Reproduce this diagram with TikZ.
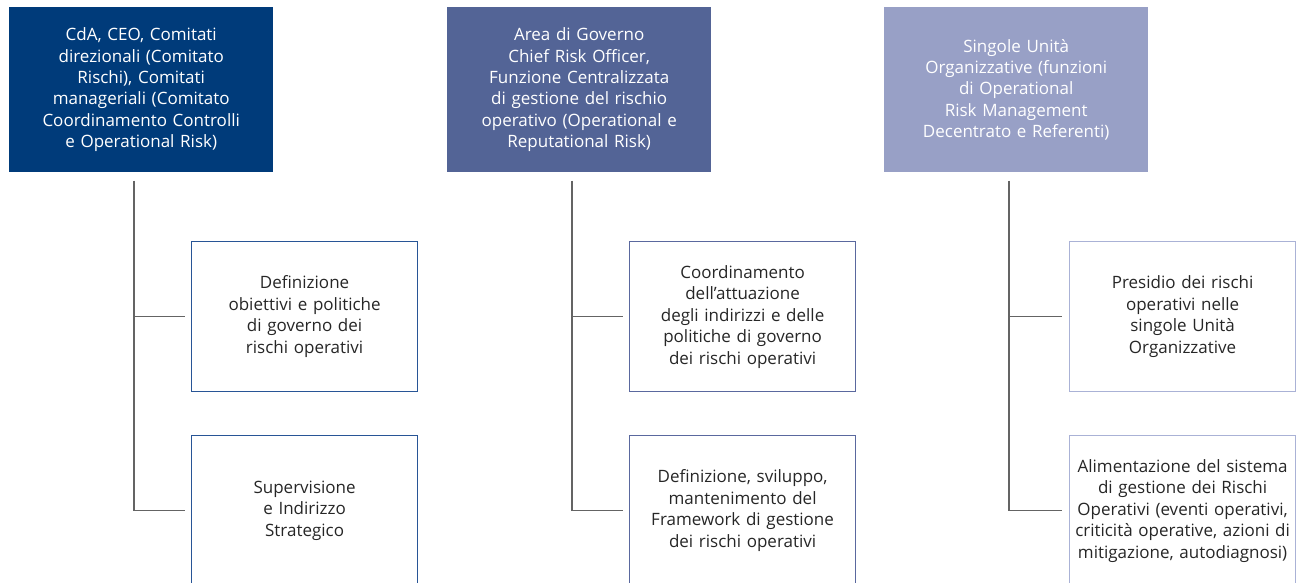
\documentclass[tikz,border=0pt]{standalone}
\usepackage{fontspec}
\setmainfont{Open Sans}
\usepackage{tikz}
\definecolor{blu1}{RGB}{0,59,122}
\definecolor{blu2}{RGB}{83,100,150}
\definecolor{blu3}{RGB}{152,160,198}
\definecolor{bordo1}{RGB}{40,85,150}
\definecolor{bordo2}{RGB}{90,104,158}
\definecolor{bordo3}{RGB}{170,178,214}
\definecolor{linea}{RGB}{100,100,100}

\begin{document}
\begin{tikzpicture}[x=1pt,y=-1pt,
    testa/.style={fill=#1,text=white,anchor=north west,minimum width=264pt,
      minimum height=165pt,text width=256pt,align=center,inner sep=0pt,
      font=\fontsize{17}{21.4}\selectfont},
    compito/.style={draw=#1,line width=1.2pt,anchor=north west,minimum width=226pt,
      minimum height=150pt,text width=218pt,align=center,inner sep=0pt,
      text={black!85},font=\fontsize{17}{21.5}\selectfont},
    ramo/.style={draw=linea,line width=1.2pt}]
  \useasboundingbox (0,0) rectangle (1302,583);
  \node[testa=blu1] (cda) at (9,7) {CdA, CEO, Comitati\\ direzionali (Comitato\\ Rischi), Comitati\\ manageriali (Comitato\\ Coordinamento Controlli\\ e Operational Risk)};
  \node[testa=blu2] (cro) at (447,7) {Area di Governo\\ Chief Risk Officer,\\ Funzione Centralizzata\\ di gestione del rischio\\ operativo (Operational e\\ Reputational Risk)};
  \node[testa=blu3] (suo) at (884,7) {Singole Unità\\ Organizzative (funzioni\\ di Operational\\ Risk Management\\ Decentrato e Referenti)};

  \node[compito=bordo1] (cda1) at (191,241) {Definizione\\ obiettivi e politiche\\ di governo dei\\ rischi operativi};
  \node[compito=bordo1] (cda2) at (191,435) {Supervisione\\ e Indirizzo\\ Strategico};
  \node[compito=bordo2] (cro1) at (629,241) {Coordinamento\\ dell’attuazione\\ degli indirizzi e delle\\ politiche di governo\\ dei rischi operativi};
  \node[compito=bordo2] (cro2) at (629,435) {Definizione, sviluppo,\\ mantenimento del\\ Framework di gestione\\ dei rischi operativi};
  \node[compito=bordo3] (suo1) at (1069,241) {Presidio dei rischi\\ operativi nelle\\ singole Unità\\ Organizzative};
  \node[compito=bordo3] (suo2) at (1069,435) {Alimentazione del sistema\\ di gestione dei Rischi\\ Operativi (eventi operativi,\\ criticità operative, azioni di\\ mitigazione, autodiagnosi)};

  \coordinate (tcda) at (134,181);
  \coordinate (tcro) at (572,181);
  \coordinate (tsuo) at (1009,181);
  \draw[ramo] (tcda) |- ([xshift=-6pt]cda1.west);
  \draw[ramo] (tcda) |- ([xshift=-6pt]cda2.west);
  \draw[ramo] (tcro) |- ([xshift=-6pt]cro1.west);
  \draw[ramo] (tcro) |- ([xshift=-6pt]cro2.west);
  \draw[ramo] (tsuo) |- ([xshift=-7pt]suo1.west);
  \draw[ramo] (tsuo) |- ([xshift=-7pt]suo2.west);
\end{tikzpicture}
\end{document}
